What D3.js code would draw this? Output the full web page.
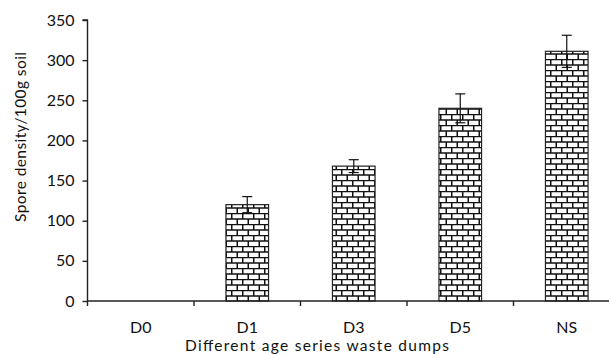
<!DOCTYPE html>
<html><head><meta charset="utf-8">
<script src="https://cdn.jsdelivr.net/npm/d3@7"></script>
<style>body{margin:0;background:#fff}svg{display:block}text{font-family:Lato,"Open Sans",sans-serif;fill:#111}</style>
</head><body>
<svg id="c" width="609" height="354"></svg>
<script>
const categories = ["D0","D1","D3","D5","NS"];
const values = [0,120,168,240,311];
const errors = [0,10,8,18,20];
const yTicks = [0,50,100,150,200,250,300,350];
const yTitle = "Spore density/100g soil";
const xTitle = "Different age series waste dumps";

const svg = d3.select("#c");
const L = 87.5, R = 620, T = 20, B = 301;
const x = d3.scaleBand().domain(categories).range([L,R]).paddingInner(0.6).paddingOuter(0.3);
const y = d3.scaleLinear().domain([0,350]).range([B,T]);

const defs = svg.append("defs");
const pat = defs.append("pattern").attr("id","brick").attr("patternUnits","userSpaceOnUse")
  .attr("width",11).attr("height",11).attr("x",0).attr("y",B);
pat.append("rect").attr("width",11).attr("height",11).attr("fill","#fff");
pat.append("path").attr("d","M0,0.5H11M0,6H11").attr("stroke","#111").attr("stroke-width",1.3);
pat.append("path").attr("d","M0.75,0V6M6.25,6V11").attr("stroke","#111").attr("stroke-width",1.5);

// bars
svg.append("g").selectAll("rect").data(categories).join("rect")
  .attr("x",d=>x(d)).attr("width",x.bandwidth())
  .attr("y",(d,i)=>y(values[i])).attr("height",(d,i)=>B-y(values[i]))
  .attr("fill","url(#brick)").attr("stroke","#222").attr("stroke-width",1.2);

// error bars
const eb = svg.append("g").attr("stroke","#111").attr("stroke-width",1.2);
categories.forEach((c,i)=>{
  if(!errors[i]) return;
  const cx = x(c)+x.bandwidth()/2;
  eb.append("line").attr("x1",cx).attr("x2",cx).attr("y1",y(values[i]+errors[i])).attr("y2",y(values[i]-errors[i]));
  eb.append("line").attr("x1",cx-5).attr("x2",cx+5).attr("y1",y(values[i]+errors[i])).attr("y2",y(values[i]+errors[i]));
  eb.append("line").attr("x1",cx-5).attr("x2",cx+5).attr("y1",y(values[i]-errors[i])).attr("y2",y(values[i]-errors[i]));
});

// y axis
const ya = svg.append("g").attr("transform",`translate(${L},0)`)
  .call(d3.axisLeft(y).tickValues(yTicks).tickSize(5).tickPadding(8));
ya.select(".domain").attr("stroke","#222").attr("stroke-width",1.4).attr("d",`M-5,${T}H0V${B}`);
ya.selectAll(".tick line").attr("stroke","#222").attr("stroke-width",1.4);
ya.selectAll("text").style("font-size","16px").style("font-family","Lato, sans-serif").attr("fill","#111");

// x axis
const step = x.step();
const xa = svg.append("g");
xa.append("line").attr("x1",L).attr("x2",R).attr("y1",B).attr("y2",B).attr("stroke","#222").attr("stroke-width",1.4);
xa.selectAll("line.t").data(d3.range(categories.length+1)).join("line").attr("class","t")
  .attr("x1",i=>L+i*step).attr("x2",i=>L+i*step).attr("y1",B).attr("y2",B+5)
  .attr("stroke","#222").attr("stroke-width",1.4);
xa.selectAll("text").data(categories).join("text")
  .attr("x",d=>x(d)+x.bandwidth()/2).attr("y",332.5).attr("text-anchor","middle")
  .style("font-size","16px").text(d=>d);

svg.append("text").attr("x",317).attr("y",351).attr("text-anchor","middle")
  .attr("textLength",264).attr("lengthAdjust","spacing")
  .style("font-size","15.5px").text(xTitle);
svg.append("text").attr("transform","translate(25.5,137) rotate(-90)").attr("text-anchor","middle")
  .attr("textLength",170).attr("lengthAdjust","spacing")
  .style("font-size","15.5px").text(yTitle);
</script>
</body></html>
